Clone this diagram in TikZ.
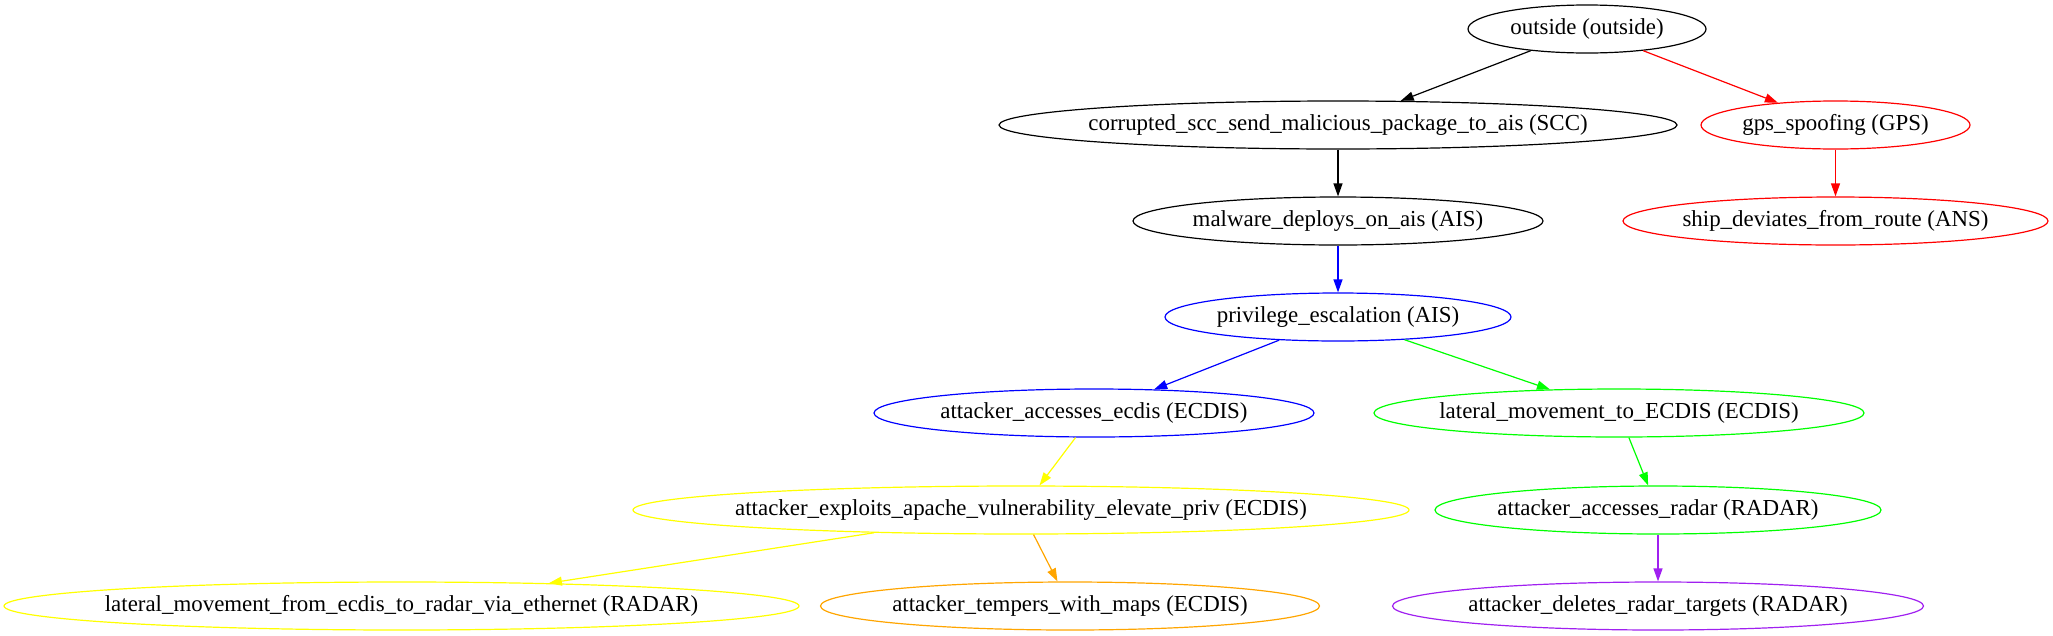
\documentclass[tikz,border=0pt]{standalone}
\usepackage{fontspec}
\setmainfont{Liberation Serif}
\usetikzlibrary{shapes.geometric,arrows.meta}
\definecolor{gvgreen}{RGB}{0,255,0}
\definecolor{gvpurple}{RGB}{160,32,240}
\definecolor{gvorange}{RGB}{255,165,0}
\definecolor{gvyellow}{RGB}{255,255,0}
\definecolor{gvblue}{RGB}{0,0,255}
\definecolor{gvred}{RGB}{255,0,0}
\newcommand{\gvtext}[1]{\makebox[0pt]{#1}}
\begin{document}
\begin{tikzpicture}[x=1pt,y=-1pt,
  gv/.style={ellipse, draw, inner sep=0pt, minimum height=48pt, line width=1.2pt,
    font=\fontsize{22.9}{28}\selectfont},
  gvedge/.style={line width=1.2pt, -{Triangle[length=13pt,width=9pt]}}]
\useasboundingbox (0,0) rectangle (2053,635);
% row 0
\node[gv, draw=black, minimum width=238pt] (out) at (1587,29) {\gvtext{outside (outside)}};
% row 1
\node[gv, draw=black, minimum width=678pt] (scc) at (1338,125) {\gvtext{corrupted\_scc\_send\_malicious\_package\_to\_ais (SCC)}};
\node[gv, draw=gvred, minimum width=269pt] (gps) at (1835.5,125) {\gvtext{gps\_spoofing (GPS)}};
% row 2
\node[gv, draw=black, minimum width=410pt] (mal) at (1338,221) {\gvtext{malware\_deploys\_on\_ais (AIS)}};
\node[gv, draw=gvred, minimum width=425pt] (ship) at (1835.5,221) {\gvtext{ship\_deviates\_from\_route (ANS)}};
% row 3
\node[gv, draw=gvblue, minimum width=346pt] (priv) at (1338,317) {\gvtext{privilege\_escalation (AIS)}};
% row 4
\node[gv, draw=gvblue, minimum width=440pt] (acce) at (1094,413) {\gvtext{attacker\_accesses\_ecdis (ECDIS)}};
\node[gv, draw=gvgreen, minimum width=490pt] (latE) at (1619,413) {\gvtext{lateral\_movement\_to\_ECDIS (ECDIS)}};
% row 5
\node[gv, draw=gvyellow, minimum width=776pt] (expl) at (1021,510) {\gvtext{attacker\_exploits\_apache\_vulnerability\_elevate\_priv (ECDIS)}};
\node[gv, draw=gvgreen, minimum width=446pt] (accr) at (1658,510) {\gvtext{attacker\_accesses\_radar (RADAR)}};
% row 6
\node[gv, draw=gvyellow, minimum width=795pt] (latR) at (401.5,606) {\gvtext{lateral\_movement\_from\_ecdis\_to\_radar\_via\_ethernet (RADAR)}};
\node[gv, draw=gvorange, minimum width=499pt] (temp) at (1070,606) {\gvtext{attacker\_tempers\_with\_maps (ECDIS)}};
\node[gv, draw=gvpurple, minimum width=531pt] (del) at (1658,606) {\gvtext{attacker\_deletes\_radar\_targets (RADAR)}};
% edges
\draw[gvedge, black] (out) -- (scc);
\draw[gvedge, gvred] (out) -- (gps);
\draw[gvedge, black] (scc) -- (mal);
\draw[gvedge, gvred] (gps) -- (ship);
\draw[gvedge, gvblue] (mal) -- (priv);
\draw[gvedge, gvblue] (priv) -- (acce);
\draw[gvedge, gvgreen] (priv) -- (latE);
\draw[gvedge, gvyellow] (acce) -- (expl);
\draw[gvedge, gvgreen] (latE) -- (accr);
\draw[gvedge, gvyellow] (expl) -- (latR);
\draw[gvedge, gvorange] (expl) -- (temp);
\draw[gvedge, gvpurple] (accr) -- (del);
\end{tikzpicture}
\end{document}
